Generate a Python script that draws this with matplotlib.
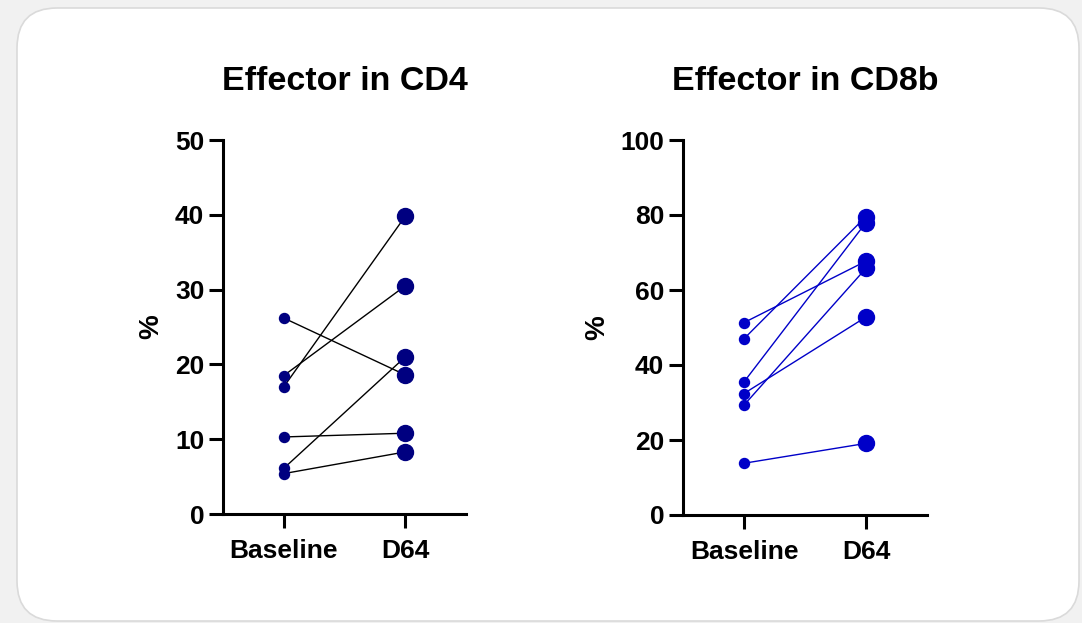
import matplotlib
matplotlib.use('Agg')
import matplotlib.pyplot as plt
from matplotlib.patches import FancyBboxPatch

# paired values
groups = ["Baseline", "D64"]
cd4_base = [26.2, 18.5, 17.0, 10.3, 6.1, 5.4]
cd4_d64 = [18.6, 30.5, 39.8, 10.8, 21.0, 8.3]
cd8_base = [51.3, 47.0, 35.5, 32.4, 29.3, 13.8]
cd8_d64 = [67.7, 79.6, 78.0, 52.8, 65.8, 19.1]
cd4_ticks = [0, 10, 20, 30, 40, 50]
cd8_ticks = [0, 20, 40, 60, 80, 100]

plt.rcParams['font.family'] = ['Liberation Sans', 'DejaVu Sans']
plt.rcParams['font.weight'] = 'bold'

W, H = 1082, 623
fig = plt.figure(figsize=(W / 100, H / 100), dpi=100)
fig.patch.set_facecolor('#f1f1f1')

# rounded white card behind the plots
card = FancyBboxPatch((17 / W, (H - 621) / H), (1079 - 17) / W, (621 - 8) / H,
                      boxstyle="round,pad=0,rounding_size=0.037",
                      transform=fig.transFigure, facecolor='white',
                      edgecolor='#dadada', linewidth=1.2, mutation_aspect=W / H,
                      zorder=-5)
fig.patches.append(card)


def paired(ax, base, d64, ticks, title, dot, line, lab_x):
    for b, d in zip(base, d64):
        ax.plot([0, 1], [b, d], color=line, lw=1.0, zorder=2)
    ax.plot([0] * len(base), base, 'o', ms=7.2, color=dot, mec=dot, zorder=3, clip_on=False)
    ax.plot([1] * len(d64), d64, 'o', ms=11.5, color=dot, mec=dot, zorder=3, clip_on=False)
    ax.set_xlim(-0.5, 1.5)
    ax.set_ylim(ticks[0], ticks[-1])
    ax.set_yticks(ticks)
    ax.set_xticks([0, 1])
    ax.set_xticklabels(groups)
    for s in ['top', 'right']:
        ax.spines[s].set_visible(False)
    for s in ['left', 'bottom']:
        ax.spines[s].set_linewidth(2.2)
    ax.tick_params(width=2.2, length=10, labelsize=19, pad=3.5)
    ax.tick_params(axis='x', pad=8)
    ax.set_ylabel('%', fontsize=20, fontweight='bold')
    ax.yaxis.set_label_coords(lab_x, 0.5)
    ax.set_title(title, fontsize=24.5, fontweight='bold', pad=36)
    ax.patch.set_alpha(0)


ax1 = fig.add_axes([223 / W, 1 - 514 / H, 243 / W, 374 / H])
ax2 = fig.add_axes([683 / W, 1 - 515 / H, 244 / W, 375 / H])

paired(ax1, cd4_base, cd4_d64, cd4_ticks, "Effector in CD4", '#000080', 'black', -0.24)
paired(ax2, cd8_base, cd8_d64, cd8_ticks, "Effector in CD8b", '#0000c8', '#0000c8', -0.30)

plt.savefig('out.png', dpi=100, facecolor=fig.get_facecolor())
